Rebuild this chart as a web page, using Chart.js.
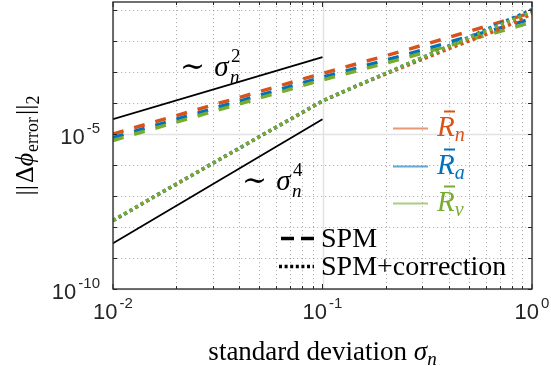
<!DOCTYPE html>
<html>
<head>
<meta charset="utf-8">
<script src="https://cdn.jsdelivr.net/npm/chart.js@4.4.1/dist/chart.umd.min.js"></script>
<style>
  html, body { margin: 0; padding: 0; background: #fff; }
</style>
</head>
<body>
<canvas id="myChart" width="551" height="366"></canvas>
<script>
// noise level (x axis)
const sigma = [0.01, 0.0126, 0.0158, 0.02, 0.0251, 0.0316, 0.0398, 0.0501, 0.0631, 0.0794,
               0.1, 0.126, 0.158, 0.2, 0.251, 0.316, 0.398, 0.501, 0.631, 0.794, 1.0];

// SPM (dashed)
const spmN = [1.00e-5, 1.58e-5, 2.45e-5, 3.89e-5, 6.03e-5, 9.55e-5, 1.48e-4, 2.34e-4, 3.63e-4, 5.75e-4,
              8.91e-4, 1.38e-3, 2.14e-3, 3.31e-3, 5.13e-3, 8.13e-3, 1.29e-2, 2.04e-2, 3.24e-2, 5.13e-2, 8.32e-2];
const spmA = [7.59e-6, 1.20e-5, 1.86e-5, 2.95e-5, 4.57e-5, 7.24e-5, 1.12e-4, 1.78e-4, 2.75e-4, 4.37e-4,
              6.76e-4, 1.02e-3, 1.55e-3, 2.40e-3, 3.63e-3, 5.62e-3, 8.91e-3, 1.38e-2, 2.14e-2, 3.31e-2, 5.25e-2];
const spmV = [6.17e-6, 9.77e-6, 1.51e-5, 2.40e-5, 3.72e-5, 5.89e-5, 9.12e-5, 1.45e-4, 2.24e-4, 3.55e-4,
              5.50e-4, 8.32e-4, 1.26e-3, 1.91e-3, 2.88e-3, 4.47e-3, 6.92e-3, 1.07e-2, 1.66e-2, 2.57e-2, 4.07e-2];

// SPM + correction (dotted)
const corrN = [1.60e-8, 3.94e-8, 9.66e-8, 2.37e-7, 5.69e-7, 1.40e-6, 3.35e-6, 8.22e-6, 1.98e-5, 4.74e-5,
               1.15e-4, 2.29e-4, 4.47e-4, 8.51e-4, 1.58e-3, 2.95e-3, 5.50e-3, 1.00e-2, 1.82e-2, 3.47e-2, 7.59e-2];
const corrA = [1.61e-8, 3.96e-8, 9.72e-8, 2.39e-7, 5.72e-7, 1.40e-6, 3.37e-6, 8.28e-6, 1.99e-5, 4.77e-5,
               1.16e-4, 2.32e-4, 4.55e-4, 8.91e-4, 1.74e-3, 3.39e-3, 6.76e-3, 1.32e-2, 2.63e-2, 5.13e-2, 1.02e-1];
const corrV = [1.62e-8, 3.98e-8, 9.77e-8, 2.40e-7, 5.75e-7, 1.41e-6, 3.39e-6, 8.32e-6, 2.00e-5, 4.79e-5,
               1.17e-4, 2.34e-4, 4.57e-4, 8.91e-4, 1.74e-3, 3.39e-3, 6.61e-3, 1.26e-2, 2.40e-2, 4.57e-2, 8.71e-2];

// slope guides
const refX = [0.01, 0.1];
const ref2 = [3.0e-5, 3.0e-3];
const ref4 = [3.0e-9, 3.0e-5];

// axes
const xTicks = [0.01, 0.1, 1];
const xTickExp = ['-2', '-1', '0'];
const xMinor = [0.02, 0.03, 0.04, 0.05, 0.06, 0.07, 0.08, 0.09, 0.2, 0.3, 0.4, 0.5, 0.6, 0.7, 0.8, 0.9];
const yTicks = [1e-10, 1e-5];
const yTickExp = ['-10', '-5'];
const yDecades = [1e-10, 1e-9, 1e-8, 1e-7, 1e-6, 1e-5, 1e-4, 1e-3, 1e-2, 1e-1];

const ORANGE = '#D95319', BLUE = '#0072BD', GREEN = '#77AC30';
const SERIF = '"Liberation Serif", "DejaVu Serif", serif';
const SANS = '"Liberation Sans", Arial, sans-serif';

function pts(xs, ys) {
    return xs.map((x, i) => ({ x: x, y: ys[i] }));
}

function dashed(data, color, order) {
    return { data: pts(sigma, data), borderColor: color, borderWidth: 3.5, borderDash: [11, 11],
             borderCapStyle: 'butt', pointRadius: 0, showLine: true, fill: false, order: order };
}

function dotted(data, color, order) {
    return { data: pts(sigma, data), borderColor: color, borderWidth: 3.5, borderDash: [3.2, 3.2],
             borderCapStyle: 'butt', pointRadius: 0, showLine: true, fill: false, order: order };
}

// draw a row of text runs: [{t, f, dy}]
function runsWidth(ctx, runs) {
    let w = 0;
    runs.forEach(r => { ctx.font = r.f; w += ctx.measureText(r.t).width + (r.gap || 0); });
    return w;
}
function drawRuns(ctx, x, y, runs, align) {
    const w = runsWidth(ctx, runs);
    let cx = x;
    if (align === 'center') cx = x - w / 2;
    if (align === 'right') cx = x - w;
    ctx.textAlign = 'left';
    ctx.textBaseline = 'alphabetic';
    runs.forEach(r => {
        ctx.font = r.f;
        cx += (r.gap || 0);
        ctx.fillText(r.t, cx, y + (r.dy || 0));
        if (r.bar) {
            ctx.save();
            ctx.strokeStyle = ctx.fillStyle;
            ctx.lineWidth = 2;
            ctx.beginPath();
            ctx.moveTo(cx + r.bar[0], y - r.bar[2]);
            ctx.lineTo(cx + r.bar[1], y - r.bar[2]);
            ctx.stroke();
            ctx.restore();
        }
        cx += ctx.measureText(r.t).width;
    });
}

const decor = {
    id: 'decor',
    beforeDatasetsDraw(chart) {
        const ctx = chart.ctx, a = chart.chartArea;
        const xs = chart.scales.x, ys = chart.scales.y;
        ctx.save();
        ctx.lineWidth = 1;
        // minor dotted grid
        ctx.strokeStyle = 'rgba(40,40,40,0.35)';
        ctx.setLineDash([1.2, 2.8]);
        xMinor.forEach(v => {
            const px = Math.round(xs.getPixelForValue(v)) + 0.5;
            ctx.beginPath(); ctx.moveTo(px, a.top); ctx.lineTo(px, a.bottom); ctx.stroke();
        });
        yDecades.forEach(v => {
            if (yTicks.includes(v)) return;
            const py = Math.round(ys.getPixelForValue(v)) + 0.5;
            ctx.beginPath(); ctx.moveTo(a.left, py); ctx.lineTo(a.right, py); ctx.stroke();
        });
        // major solid grid
        ctx.setLineDash([]);
        ctx.strokeStyle = '#e3e3e3';
        ctx.lineWidth = 1.5;
        xTicks.forEach(v => {
            const px = Math.round(xs.getPixelForValue(v)) + 0.5;
            ctx.beginPath(); ctx.moveTo(px, a.top); ctx.lineTo(px, a.bottom); ctx.stroke();
        });
        yTicks.forEach(v => {
            const py = Math.round(ys.getPixelForValue(v)) + 0.5;
            ctx.beginPath(); ctx.moveTo(a.left, py); ctx.lineTo(a.right, py); ctx.stroke();
        });
        ctx.restore();
    },
    afterDatasetsDraw(chart) {
        const ctx = chart.ctx, a = chart.chartArea;
        const xs = chart.scales.x, ys = chart.scales.y;
        ctx.save();
        // box
        ctx.strokeStyle = '#262626';
        ctx.lineWidth = 1.3;
        ctx.strokeRect(a.left, a.top, a.right - a.left, a.bottom - a.top);
        // ticks
        ctx.lineWidth = 1;
        ctx.beginPath();
        xTicks.forEach(v => {
            const px = xs.getPixelForValue(v);
            ctx.moveTo(px, a.bottom); ctx.lineTo(px, a.bottom - 5);
            ctx.moveTo(px, a.top); ctx.lineTo(px, a.top + 5);
        });
        xMinor.forEach(v => {
            const px = Math.round(xs.getPixelForValue(v)) + 0.5;
            ctx.moveTo(px, a.bottom); ctx.lineTo(px, a.bottom - 3);
            ctx.moveTo(px, a.top); ctx.lineTo(px, a.top + 3);
        });
        yDecades.forEach(v => {
            const py = Math.round(ys.getPixelForValue(v)) + 0.5;
            ctx.moveTo(a.left, py); ctx.lineTo(a.left + 4, py);
            ctx.moveTo(a.right, py); ctx.lineTo(a.right - 4, py);
        });
        ctx.stroke();

        // tick labels
        ctx.fillStyle = '#262626';
        xTicks.forEach((v, i) => {
            const px = xs.getPixelForValue(v);
            drawRuns(ctx, px, a.bottom + 30, [
                { t: '10', f: '22px ' + SANS },
                { t: xTickExp[i], f: '15px ' + SANS, dy: -11, gap: 2 }
            ], 'center');
        });
        yTicks.forEach((v, i) => {
            const py = ys.getPixelForValue(v);
            drawRuns(ctx, a.left - 13, py + 10, [
                { t: '10', f: '22px ' + SANS },
                { t: yTickExp[i], f: '15px ' + SANS, dy: -11, gap: 2 }
            ], 'right');
        });

        // axis titles
        ctx.fillStyle = '#000';
        drawRuns(ctx, (a.left + a.right) / 2, 360, [
            { t: 'standard deviation ', f: '27px ' + SERIF },
            { t: 'σ', f: 'italic 27px ' + SERIF },
            { t: 'n', f: 'italic 19px ' + SERIF, dy: 5 }
        ], 'center');
        ctx.save();
        ctx.translate(33, (a.top + a.bottom) / 2);
        ctx.rotate(-Math.PI / 2);
        drawRuns(ctx, 0, 0, [
            { t: '||', f: '26px ' + SERIF },
            { t: 'Δ', f: '26px ' + SERIF, gap: 2 },
            { t: 'ϕ', f: 'italic 26px ' + SERIF },
            { t: 'error', f: '18px ' + SERIF, dy: 5, gap: 1 },
            { t: '||', f: '26px ' + SERIF, gap: 2 },
            { t: '2', f: '18px ' + SERIF, dy: 6 }
        ], 'center');
        ctx.restore();

        // slope annotations
        drawRuns(ctx, 180, 76, [
            { t: '∼', f: '30px "DejaVu Serif", serif' },
            { t: 'σ', f: 'italic 29px ' + SERIF, gap: 9 }
        ], 'left');
        drawRuns(ctx, 231, 62, [{ t: '2', f: '19px ' + SERIF }], 'left');
        drawRuns(ctx, 230, 83, [{ t: 'n', f: 'italic 19px ' + SERIF }], 'left');

        drawRuns(ctx, 242, 190, [
            { t: '∼', f: '30px "DejaVu Serif", serif' },
            { t: 'σ', f: 'italic 29px ' + SERIF, gap: 9 }
        ], 'left');
        drawRuns(ctx, 293, 176, [{ t: '4', f: '19px ' + SERIF }], 'left');
        drawRuns(ctx, 292, 197, [{ t: 'n', f: 'italic 19px ' + SERIF }], 'left');

        // colour legend
        const entries = [
            { c: ORANGE, s: 'n', y: 128.5 },
            { c: BLUE, s: 'a', y: 166.5 },
            { c: GREEN, s: 'v', y: 203.5 }
        ];
        entries.forEach(e => {
            ctx.save();
            ctx.globalAlpha = 0.6;
            ctx.strokeStyle = e.c;
            ctx.lineWidth = 2;
            ctx.beginPath(); ctx.moveTo(393, e.y); ctx.lineTo(428, e.y); ctx.stroke();
            ctx.restore();
            ctx.fillStyle = e.c;
            drawRuns(ctx, 437, e.y + 7, [
                { t: 'R', f: 'italic 29px ' + SERIF, bar: [7, 18, 24] },
                { t: e.s, f: 'italic 20px ' + SERIF, dy: 5 }
            ], 'left');
        });

        // line-style legend
        ctx.strokeStyle = '#000';
        ctx.lineWidth = 3.5;
        ctx.setLineDash([13, 7]);
        ctx.beginPath(); ctx.moveTo(281, 238.5); ctx.lineTo(314, 238.5); ctx.stroke();
        ctx.setLineDash([3, 2.6]);
        ctx.beginPath(); ctx.moveTo(279, 266.5); ctx.lineTo(314, 266.5); ctx.stroke();
        ctx.setLineDash([]);
        ctx.fillStyle = '#000';
        drawRuns(ctx, 321, 246.5, [{ t: 'SPM', f: '28px ' + SERIF }], 'left');
        drawRuns(ctx, 321, 274.5, [{ t: 'SPM+correction', f: '28px ' + SERIF }], 'left');
        ctx.restore();
    }
};

function initializeChart() {
    const ctx = document.getElementById('myChart').getContext('2d');
    new Chart(ctx, {
        type: 'scatter',
        data: {
            datasets: [
                { data: pts(refX, ref2), borderColor: '#000', borderWidth: 1.8, pointRadius: 0, showLine: true, order: 1 },
                { data: pts(refX, ref4), borderColor: '#000', borderWidth: 1.8, pointRadius: 0, showLine: true, order: 1 },
                dashed(spmN, ORANGE, 8),
                dashed(spmA, BLUE, 7),
                dashed(spmV, GREEN, 6),
                dotted(corrN, ORANGE, 5),
                dotted(corrA, BLUE, 4),
                dotted(corrV, GREEN, 3)
            ]
        },
        options: {
            responsive: false,
            animation: false,
            devicePixelRatio: 1,
            layout: { padding: { left: 113, right: 19, top: 2, bottom: 77 } },
            plugins: { legend: { display: false }, tooltip: { enabled: false } },
            scales: {
                x: { type: 'logarithmic', min: 0.01, max: 1, display: false },
                y: { type: 'logarithmic', min: 1e-10, max: 0.18, display: false }
            }
        },
        plugins: [decor]
    });
}

initializeChart();
</script>
</body>
</html>
